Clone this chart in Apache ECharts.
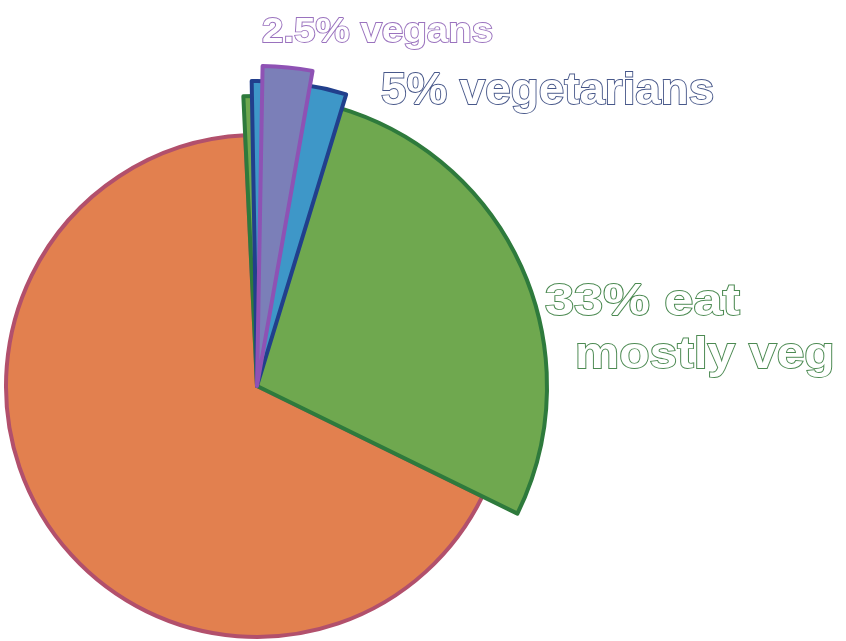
<!DOCTYPE html>
<html>
<head>
<meta charset="utf-8">
<script src="https://cdn.jsdelivr.net/npm/echarts@6/dist/echarts.min.js"></script>
<style>
html,body{margin:0;padding:0;background:#fff;}
#chart{width:846px;height:641px;}
</style>
</head>
<body>
<div id="chart"></div>
<script>
// ---- data (percent of people) ----
const groups = ['mostly veg', 'vegetarians', 'vegans', 'others'];
const values = [33, 5, 2.5, 67];
const labelPrefix = ['eat', '', '', ''];

// ---- styling ----
const fills   = ['#6FA84F', '#3E97C8', '#7B7FB8', '#E2804F'];
const borders = ['#2E7A3C', '#213F8C', '#8E52B4', '#B2506C'];
const textStroke = ['#4C8A52', '#48588A', '#9A72BE'];
const radii   = [290, 305, 320, 251];
const starts  = [92.7, 91, 89, 92.7];   // start angle of each layer (deg, ECharts convention)
const center  = [257, 386];
const clear = 'rgba(0,0,0,0)';

const chart = echarts.init(document.getElementById('chart'), null, {renderer: 'canvas'});

function layer(i, showFirst) {
  const total = 100;
  const rest = { value: total - values[i], itemStyle: { color: clear, borderWidth: 0 } };
  const main = { name: groups[i], value: values[i],
    itemStyle: { color: fills[i], borderColor: borders[i], borderWidth: 4, borderJoin: 'round' } };
  return {
    type: 'pie',
    center: center,
    radius: [0, radii[i]],
    startAngle: starts[i],
    clockwise: true,
    silent: true,
    label: { show: false },
    labelLine: { show: false },
    emphasis: { disabled: true },
    data: showFirst ? [main, rest] : [rest, main]
  };
}

// orange "others" occupies the remainder after the green 33% slice
const orange = layer(3, false);
orange.data[0].value = values[0];
orange.data[1].value = values[3];

const series = [orange, layer(0, true), layer(1, true), layer(2, true)];

function outlinedText(x, y, txt, size, color, sx) {
  return {
    type: 'text',
    x: x, y: y,
    scaleX: sx, scaleY: 1,
    silent: true,
    style: {
      text: txt,
      font: 'bold ' + size + 'px "Liberation Sans", Arial, sans-serif',
      fill: '#ffffff',
      stroke: color,
      lineWidth: 1.8,
      align: 'left',
      verticalAlign: 'middle'
    }
  };
}

const graphics = [
  outlinedText(262, 32, values[2] + '% ' + groups[2], 35, textStroke[2], 1.1),
  outlinedText(381, 92, values[1] + '% ' + groups[1], 44, textStroke[1], 1.04),
  outlinedText(545, 303, values[0] + '% ' + labelPrefix[0], 44, textStroke[0], 1.19),
  outlinedText(575, 356, groups[0], 44, textStroke[0], 1.13)
];

chart.setOption({
  animation: false,
  backgroundColor: '#ffffff',
  series: series,
  graphic: graphics
});
</script>
</body>
</html>
